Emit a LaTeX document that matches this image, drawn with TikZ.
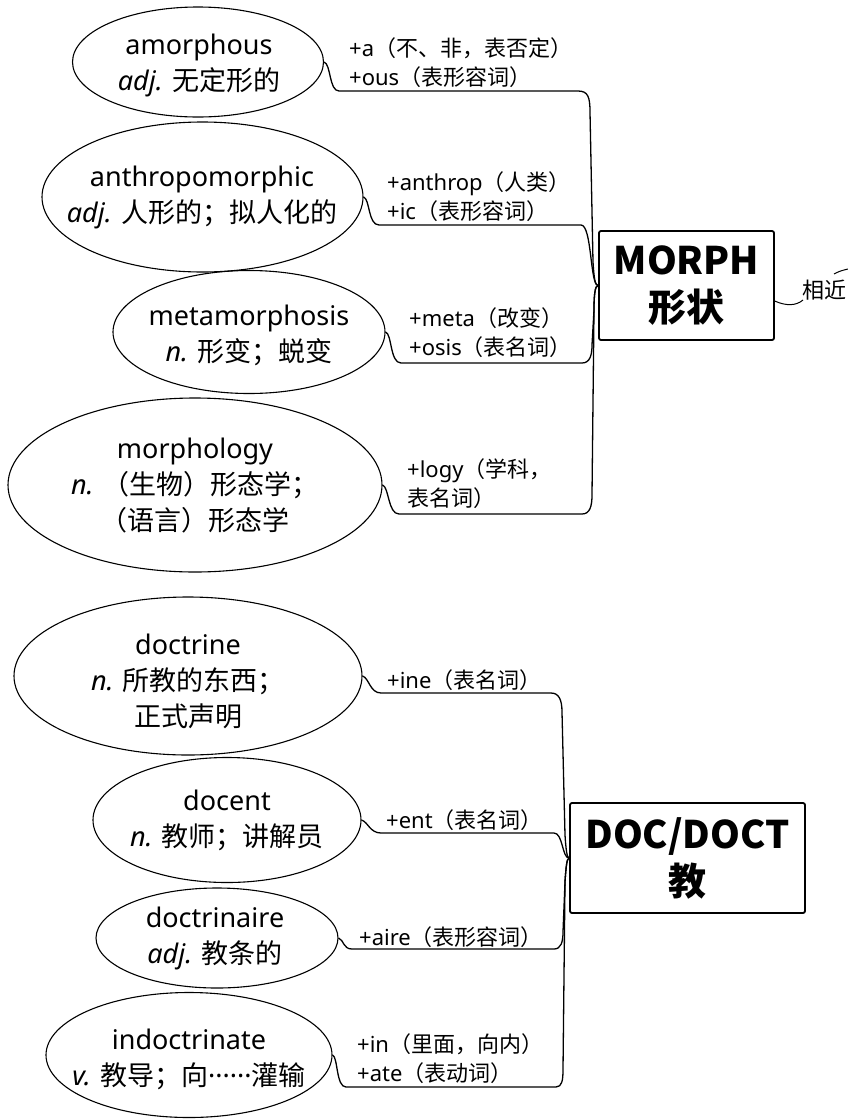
\documentclass[tikz,border=0pt]{standalone}
\usepackage{fontspec}
\setmainfont{Noto Sans}
\newfontfamily\cjk{Noto Sans CJK SC}
\usetikzlibrary{shapes.geometric}
\begin{document}
\begin{tikzpicture}[x=1pt,y=-1pt,
  wordell/.style={draw, ellipse, line width=1.1pt, inner sep=0pt},
  wordtxt/.style={align=center, inner sep=0pt, font=\fontsize{27}{36}\selectfont},
  affix/.style={align=left, anchor=west, inner sep=0pt, font=\fontsize{22}{29}\selectfont},
  rootbox/.style={draw, line width=1.8pt, rounded corners=2pt, align=center, inner sep=0pt, font=\fontsize{38}{47}\selectfont\cjk\bfseries},
  link/.style={line width=1.3pt}]
\useasboundingbox (0,0) rectangle (848,1120);

% ---------- MORPH group ----------
\node[rootbox, minimum width=175pt, minimum height=109pt] (morph) at (686.5,285.5) {MORPH\\形状};

\node[wordell, minimum width=251pt, minimum height=110pt] (e1) at (198,62) {};
\node[wordtxt] (t1) at (199,65) {amorphous\\\textit{adj.} {\cjk 无定形的}};
\node[wordell, minimum width=321pt, minimum height=150pt] (e2) at (202.5,197) {};
\node[wordtxt] (t2) at (202,197) {anthropomorphic\\\textit{adj.} {\cjk 人形的；拟人化的}};
\node[wordell, minimum width=272pt, minimum height=123pt] (e3) at (249,332) {};
\node[wordtxt] (t3) at (249,335) {metamorphosis\\\textit{n.} {\cjk 形变；蜕变}};
\node[wordell, minimum width=374pt, minimum height=174pt] (e4) at (195,485) {};
\node[wordtxt] (t4) at (195,486) {morphology\\\textit{n.} {\cjk （生物）形态学；}\\{\cjk （语言）形态学}};

\node[affix] (a1) at (349,62.5) {+a{\cjk （不、非，表否定）}\\+ous{\cjk （表形容词）}};
\node[affix] (a2) at (387,196.5) {+anthrop{\cjk （人类）}\\+ic{\cjk （表形容词）}};
\node[affix] (a3) at (409,333) {+meta{\cjk （改变）}\\+osis{\cjk （表名词）}};
\node[affix] (a4) at (407,484) {+logy{\cjk （学科，}\\{\cjk 表名词）}};

\draw[link] (e1.east) .. controls (331,64) and (329,91) .. (339,91) -- (578,91)
  .. controls (588,91) and (590,97) .. (590,112) -- (593,262)
  .. controls (594,278) and (595,285.5) .. (morph.west);
\draw[link] (e2.east) .. controls (370,199) and (368,225) .. (379,225) -- (581,225)
  .. controls (592,225) and (590,285.5) .. (morph.west);
\draw[link] (e3.east) .. controls (392,334) and (390,363) .. (401,363) -- (582,363)
  .. controls (590,363) and (592,355) .. (592,345) -- (594,310)
  .. controls (594,295) and (595,285.5) .. (morph.west);
\draw[link] (e4.east) .. controls (389,487) and (388,514) .. (399,514) -- (582,514)
  .. controls (590,514) and (592,506) .. (592,495) -- (594,310)
  .. controls (594,295) and (595,285.5) .. (morph.west);

% related link (cut off at the right edge)
\coordinate (near) at (803,300);
\coordinate (far1) at (834,274);
\coordinate (far2) at (848,269);
\node[inner sep=0pt, font=\fontsize{22}{29}\selectfont\cjk] (rel) at (824,290) {相近};
\draw[line width=1pt] (morph.-10) .. controls (786,306) and (796,306) .. (near);
\draw[line width=1pt] (far1) .. controls (840,271) .. (far2);

% ---------- DOC/DOCT group ----------
\node[rootbox, minimum width=235pt, minimum height=110pt] (doc) at (687.5,858) {DOC/DOCT\\教};

\node[wordell, minimum width=348pt, minimum height=158pt] (d1) at (188,676) {};
\node[wordtxt] (s1) at (188,681) {doctrine\\\textit{n.} {\cjk 所教的东西；}\\{\cjk 正式声明}};
\node[wordell, minimum width=268pt, minimum height=125pt] (d2) at (227,820) {};
\node[wordtxt] (s2) at (227,820) {docent\\\textit{n.} {\cjk 教师；讲解员}};
\node[wordell, minimum width=242pt, minimum height=100pt] (d3) at (217,938) {};
\node[wordtxt] (s3) at (215,938) {doctrinaire\\\textit{adj.} {\cjk 教条的}};
\node[wordell, minimum width=286pt, minimum height=125pt] (d4) at (189,1055) {};
\node[wordtxt] (s4) at (189,1059) {indoctrinate\\\textit{v.} {\cjk 教导；向}······{\cjk 灌输}};

\node[affix] (b1) at (387,680) {+ine{\cjk （表名词）}};
\node[affix] (b2) at (386,820) {+ent{\cjk （表名词）}};
\node[affix] (b3) at (359,937) {+aire{\cjk （表形容词）}};
\node[affix] (b4) at (357,1058.5) {+in{\cjk （里面，向内）}\\+ate{\cjk （表动词）}};

\draw[link] (d1.east) .. controls (369,678) and (370,693) .. (381,693) -- (551,693)
  .. controls (559,693) and (562,700) .. (562,712) -- (565,835)
  .. controls (566,850) and (567,858) .. (doc.west);
\draw[link] (d2.east) .. controls (368,822) and (370,833) .. (381,833) -- (554,833)
  .. controls (563,833) and (562,858) .. (doc.west);
\draw[link] (d3.east) .. controls (344,940) and (343,949) .. (352,949) -- (554,949)
  .. controls (561,949) and (563,942) .. (563,932) -- (565,882)
  .. controls (566,866) and (567,858) .. (doc.west);
\draw[link] (d4.east) .. controls (338,1057) and (336,1087) .. (346,1087) -- (556,1087)
  .. controls (562,1087) and (563,1080) .. (563,1070) -- (565,882)
  .. controls (566,866) and (567,858) .. (doc.west);
\end{tikzpicture}
\end{document}
